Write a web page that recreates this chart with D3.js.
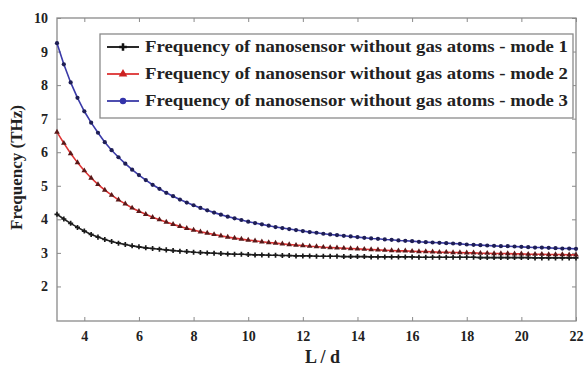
<!DOCTYPE html>
<html>
<head>
<meta charset="utf-8">
<script src="https://cdn.jsdelivr.net/npm/d3@7"></script>
<style>
  body { margin: 0; background: #fff; }
  text { font-family: "Liberation Serif", "Times New Roman", serif; font-weight: bold; fill: #222; }
</style>
</head>
<body>
<div class="chart"></div>
<script>
// L/d grid: 3 to 22 step 0.25
var ratio = d3.range(3, 22.001, 0.25);

var mode1 = [4.15, 4.01, 3.88, 3.76, 3.65, 3.55, 3.47, 3.40, 3.34, 3.29, 3.25, 3.21, 3.18, 3.15, 3.13, 3.11,
  3.09, 3.07, 3.05, 3.04, 3.02, 3.01, 3.00, 2.99, 2.98, 2.97, 2.96, 2.96, 2.95, 2.94, 2.94, 2.93,
  2.93, 2.92, 2.92, 2.91, 2.91, 2.91, 2.90, 2.90, 2.90, 2.90, 2.89, 2.89, 2.89, 2.89, 2.88, 2.88,
  2.88, 2.88, 2.88, 2.88, 2.88, 2.87, 2.87, 2.87, 2.87, 2.87, 2.87, 2.87, 2.87, 2.87, 2.86, 2.86,
  2.86, 2.86, 2.86, 2.86, 2.86, 2.86, 2.85, 2.85, 2.85, 2.85, 2.85, 2.85, 2.85];

var mode2 = [6.60, 6.27, 5.96, 5.69, 5.45, 5.23, 5.04, 4.87, 4.72, 4.58, 4.46, 4.34, 4.24, 4.15, 4.06, 3.99,
  3.92, 3.85, 3.79, 3.73, 3.68, 3.63, 3.59, 3.55, 3.51, 3.47, 3.44, 3.41, 3.38, 3.36, 3.33, 3.31,
  3.29, 3.27, 3.25, 3.23, 3.22, 3.20, 3.19, 3.17, 3.16, 3.15, 3.14, 3.13, 3.12, 3.11, 3.10, 3.09,
  3.08, 3.07, 3.06, 3.06, 3.05, 3.04, 3.04, 3.03, 3.02, 3.02, 3.01, 3.01, 3.00, 3.00, 2.99, 2.99,
  2.98, 2.98, 2.98, 2.97, 2.97, 2.96, 2.96, 2.96, 2.95, 2.95, 2.95, 2.94, 2.94];

var mode3 = [9.25, 8.62, 8.08, 7.62, 7.22, 6.88, 6.58, 6.30, 6.06, 5.85, 5.66, 5.48, 5.32, 5.17, 5.03, 4.91,
  4.79, 4.69, 4.59, 4.50, 4.42, 4.34, 4.27, 4.20, 4.14, 4.08, 4.03, 3.98, 3.93, 3.89, 3.85, 3.81,
  3.77, 3.74, 3.71, 3.68, 3.65, 3.62, 3.60, 3.57, 3.55, 3.53, 3.51, 3.49, 3.47, 3.45, 3.43, 3.42,
  3.40, 3.39, 3.37, 3.36, 3.35, 3.33, 3.32, 3.31, 3.30, 3.29, 3.28, 3.27, 3.25, 3.24, 3.23, 3.22,
  3.21, 3.20, 3.20, 3.19, 3.18, 3.17, 3.16, 3.16, 3.15, 3.14, 3.13, 3.13, 3.12];

var xTicks = [4, 6, 8, 10, 12, 14, 16, 18, 20, 22];
var yTicks = [2, 3, 4, 5, 6, 7, 8, 9, 10];
var labels = [
  'Frequency of nanosensor without gas atoms - mode 1',
  'Frequency of nanosensor without gas atoms - mode 2',
  'Frequency of nanosensor without gas atoms - mode 3'
];

var margin = { top: 18, right: 8, bottom: 53, left: 57 };
var width = 584 - margin.left - margin.right;
var height = 374 - margin.top - margin.bottom;

var svg = d3.select('.chart')
  .append('svg')
    .attr('width', 584)
    .attr('height', 374)
  .append('g')
    .attr('transform', 'translate(' + margin.left + ',' + margin.top + ')');

var xScale = d3.scaleLinear().domain([3, 22]).range([0, width]);
var yScale = d3.scaleLinear().domain([1, 10]).range([height - 1, 0]);

var axisColor = '#8a8a8a';

// frame
svg.append('rect')
  .attr('width', width).attr('height', height)
  .style('fill', 'none').style('stroke', axisColor).style('stroke-width', 1.3);

function styleAxis(g, hideText) {
  g.select('.domain').remove();
  g.selectAll('.tick line').style('stroke', axisColor);
  g.selectAll('.tick text').style('font-size', '14px').style('fill', '#222');
  if (hideText) g.selectAll('.tick text').remove();
}

svg.append('g')
  .attr('transform', 'translate(0,' + height + ')')
  .call(d3.axisBottom(xScale).tickValues(xTicks).tickSizeInner(-4).tickPadding(10))
  .call(styleAxis);

svg.append('g')
  .call(d3.axisTop(xScale).tickValues(xTicks).tickSizeInner(-4))
  .call(function(g) { styleAxis(g, true); });

svg.append('g')
  .call(d3.axisLeft(yScale).tickValues(yTicks).tickSizeInner(-4).tickPadding(9))
  .call(styleAxis);

svg.append('g')
  .attr('transform', 'translate(' + width + ',0)')
  .call(d3.axisRight(yScale).tickValues(yTicks).tickSizeInner(-4))
  .call(function(g) { styleAxis(g, true); });

// axis titles
svg.append('text')
  .attr('x', width / 2 + 6).attr('y', height + 42)
  .attr('text-anchor', 'middle')
  .style('font-size', '18px')
  .text('L / d');

svg.append('text')
  .attr('transform', 'translate(' + (-35) + ',' + (height / 2 - 2) + ') rotate(-90)')
  .attr('text-anchor', 'middle')
  .style('font-size', '17px')
  .text('Frequency (THz)');

var series = [
  { values: mode1, line: '#222222', mark: '#1a1a1a', shape: d3.symbolCross },
  { values: mode2, line: '#dd3333', mark: '#5a1818', shape: d3.symbolTriangle },
  { values: mode3, line: '#3a3aa8', mark: '#1e1e55', shape: d3.symbolCircle }
];

var line = d3.line()
  .x((d, i) => xScale(ratio[i]))
  .y(d => yScale(d));

series.forEach(function(s) {
  svg.append('path')
    .attr('d', line(s.values))
    .style('fill', 'none')
    .style('stroke', s.line)
    .style('stroke-width', 1.6);

  svg.selectAll(null)
    .data(s.values)
    .enter()
    .append('path')
      .attr('d', d3.symbol().type(s.shape).size(14))
      .attr('transform', (d, i) => 'translate(' + xScale(ratio[i]) + ',' + yScale(d) + ')')
      .style('fill', s.mark);
});

// legend
var legend = svg.append('g').attr('transform', 'translate(' + (100 - margin.left) + ',' + (34 - margin.top) + ')');
legend.append('rect')
  .attr('width', 473).attr('height', 84)
  .style('fill', '#fff').style('stroke', '#8a8a8a').style('stroke-width', 1.3);

var legendColors = ['#111', '#dd3333', '#3a3aa8'];
var legendMarks = ['#111', '#cc2222', '#3333aa'];
series.forEach(function(s, i) {
  var y = 13 + i * 27;
  legend.append('line')
    .attr('x1', 7).attr('x2', 39).attr('y1', y).attr('y2', y)
    .style('stroke', legendColors[i]).style('stroke-width', 1.8);
  legend.append('path')
    .attr('d', d3.symbol().type(s.shape).size(32))
    .attr('transform', 'translate(23,' + y + ')')
    .style('fill', legendMarks[i]);
  legend.append('text')
    .attr('x', 45).attr('y', y + 5)
    .style('font-size', '16px')
    .attr('textLength', 423)
    .attr('lengthAdjust', 'spacingAndGlyphs')
    .text(labels[i]);
});
</script>
</body>
</html>
